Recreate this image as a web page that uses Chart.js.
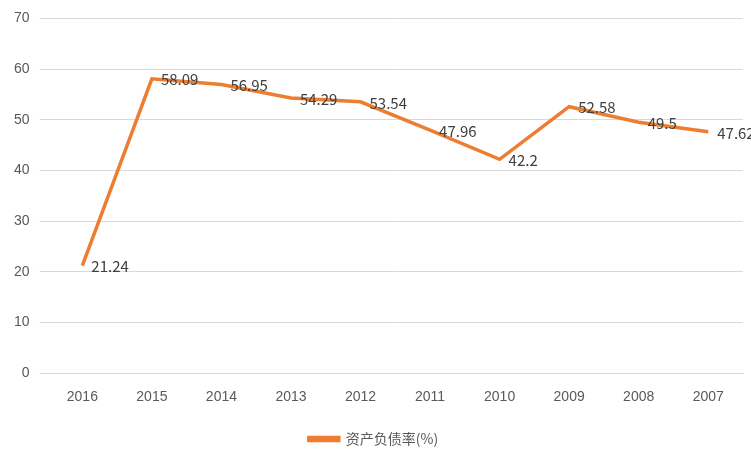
<!DOCTYPE html>
<html>
<head>
<meta charset="utf-8">
<script src="https://cdn.jsdelivr.net/npm/chart.js@4/dist/chart.umd.min.js"></script>
<style>
  body { margin: 0; background: #fff; }
</style>
</head>
<body>
<canvas id="chart" width="751" height="462"></canvas>
<script>
// chart data
const years = ['2016', '2015', '2014', '2013', '2012', '2011', '2010', '2009', '2008', '2007'];
const debtRatio = [21.24, 58.09, 56.95, 54.29, 53.54, 47.96, 42.2, 52.58, 49.5, 47.62];
const seriesName = '资产负债率(%)';

// value labels to the right of each point
const pointLabels = {
  id: 'pointLabels',
  afterDatasetsDraw(chart) {
    const { ctx } = chart;
    const meta = chart.getDatasetMeta(0);
    ctx.save();
    ctx.font = '15px "Microsoft YaHei", "Noto Sans CJK SC", sans-serif';
    ctx.fillStyle = '#404040';
    ctx.textAlign = 'left';
    ctx.textBaseline = 'middle';
    meta.data.forEach((pt, i) => {
      ctx.fillText(String(debtRatio[i]), pt.x + 9, pt.y + 1);
    });
    ctx.restore();
  }
};

new Chart(document.getElementById('chart'), {
  type: 'line',
  data: {
    labels: years,
    datasets: [{
      label: seriesName,
      data: debtRatio,
      borderColor: '#ED7D31',
      backgroundColor: '#ED7D31',
      borderWidth: 3.5,
      pointRadius: 0,
      tension: 0
    }]
  },
  options: {
    responsive: false,
    animation: false,
    layout: { padding: { left: 4, right: 8, top: 12, bottom: 6 } },
    scales: {
      x: {
        offset: true,
        grid: { display: false },
        border: { color: '#d9d9d9' },
        ticks: { color: '#595959', font: { size: 14 }, padding: 8 }
      },
      y: {
        min: 0,
        max: 70,
        ticks: { stepSize: 10, color: '#595959', font: { size: 14 }, padding: 10 },
        grid: { color: '#d9d9d9' },
        border: { display: false }
      }
    },
    plugins: {
      legend: {
        position: 'bottom',
        labels: {
          color: '#595959',
          font: { size: 14, family: '"Noto Sans CJK SC", sans-serif' },
          boxWidth: 30,
          boxHeight: 3,
          padding: 18
        }
      },
      tooltip: { enabled: false }
    }
  },
  plugins: [pointLabels]
});
</script>
</body>
</html>
